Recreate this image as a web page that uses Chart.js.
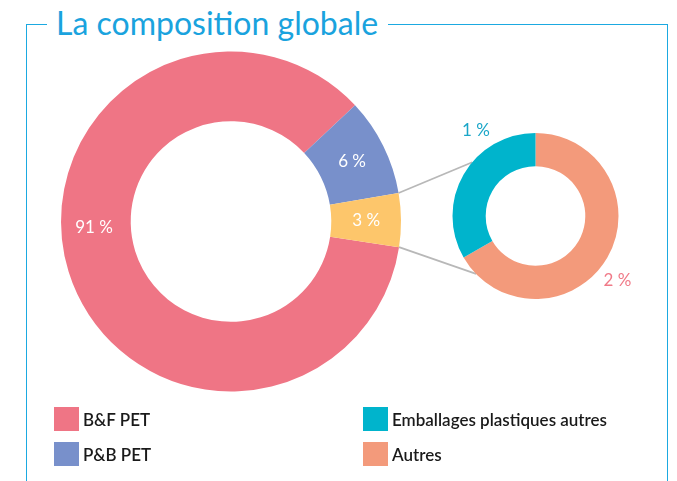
<!DOCTYPE html>
<html>
<head>
<meta charset="utf-8">
<script src="https://cdn.jsdelivr.net/npm/chart.js@4"></script>
<style>
  body { margin: 0; background: #fff; }
  #wrap { position: relative; width: 677px; height: 481px; overflow: hidden; font-family: Lato, "Open Sans", sans-serif; }
  #frame { position: absolute; left: 26px; top: 24px; width: 640px; height: 520px; border: 1.5px solid #1ba9e1; border-bottom: none; }
  #title { position: absolute; left: 47px; top: 3px; padding: 0 10px 0 9px; background: #fff; color: #1aa3de; font-size: 32px; line-height: 40px; white-space: nowrap; }
  canvas { position: absolute; left: 0; top: 0; }
  .leg { position: absolute; display: flex; align-items: center; font-size: 17px; font-weight: 600; color: #1a1a1a; }
  .leg span.box { width: 25px; height: 24px; margin-right: 4px; }
</style>
</head>
<body>
<div id="wrap">
  <div id="frame"></div>
  <div id="title">La composition globale</div>
  <canvas id="big" width="677" height="481"></canvas>
  <canvas id="small" width="677" height="481"></canvas>
  <div id="legend"></div>
</div>
<script>
// main ring
const bigCategories = ["B&F PET", "P&B PET", "Autres plastiques"];
const bigValues = [85.6, 9.3, 5.1];
const bigLabels = ["91 %", "6 %", "3 %"];
const bigColors = ["#ef7585", "#7890cb", "#fdc66b"];

// detail ring (split of the 3 %)
const smallCategories = ["Autres", "Emballages plastiques autres"];
const smallValues = [2, 1];
const smallLabels = ["2 %", "1 %"];
const smallColors = ["#f39a7b", "#00b4cc"];
const smallLabelColors = ["#f07a88", "#1aa6c8"];

// legend order as in the picture
const legendNames = ["B&F PET", "P&B PET", "Emballages plastiques autres", "Autres"];
const legendColors = ["#ef7585", "#7890cb", "#00b4cc", "#f39a7b"];

const rad = (d) => d * Math.PI / 180;

const sliceLabels = {
  id: "sliceLabels",
  afterDatasetsDraw(chart, args, opts) {
    const { ctx } = chart;
    const arcs = chart.getDatasetMeta(0).data;
    ctx.save();
    ctx.font = opts.font;
    ctx.textAlign = "center";
    ctx.textBaseline = "middle";
    arcs.forEach((arc, i) => {
      let x, y;
      if (opts.angles && opts.angles[i] != null) {
        const r = opts.outside ? arc.outerRadius + opts.offset : (arc.innerRadius + arc.outerRadius) / 2 + (opts.offset || 0);
        x = arc.x + r * Math.cos(rad(opts.angles[i]));
        y = arc.y + r * Math.sin(rad(opts.angles[i]));
      } else {
        const p = arc.tooltipPosition();
        x = p.x; y = p.y;
      }
      ctx.fillStyle = Array.isArray(opts.color) ? opts.color[i] : opts.color;
      ctx.fillText(opts.labels[i], x, y);
    });
    ctx.restore();
  }
};

const bigChart = new Chart(document.getElementById("big"), {
  type: "doughnut",
  data: {
    labels: bigCategories,
    datasets: [{ data: bigValues, backgroundColor: bigColors, borderWidth: 0 }]
  },
  options: {
    responsive: false,
    animation: false,
    rotation: 98.7,
    cutout: "59%",
    layout: { padding: { left: 61, right: 276, top: 51, bottom: 89 } },
    plugins: {
      legend: { display: false },
      tooltip: { enabled: false },
      sliceLabels: { labels: bigLabels, color: "#fff", font: "17px Lato", angles: [177.5, null, null], offset: 2 }
    }
  },
  plugins: [sliceLabels]
});

const connectors = {
  id: "connectors",
  beforeDatasetsDraw(chart) {
    const src = bigChart.getDatasetMeta(0).data[2];
    const dst = chart.getDatasetMeta(0).data[0];
    const ends = [220.4, 135.7];
    const starts = [src.startAngle, src.endAngle];
    const { ctx } = chart;
    ctx.save();
    ctx.strokeStyle = "#b8b8b8";
    ctx.lineWidth = 1.8;
    starts.forEach((a, i) => {
      ctx.beginPath();
      ctx.moveTo(src.x + src.outerRadius * Math.cos(a), src.y + src.outerRadius * Math.sin(a));
      ctx.lineTo(dst.x + dst.outerRadius * Math.cos(rad(ends[i])), dst.y + dst.outerRadius * Math.sin(rad(ends[i])));
      ctx.stroke();
    });
    ctx.restore();
  }
};

new Chart(document.getElementById("small"), {
  type: "doughnut",
  data: {
    labels: smallCategories,
    datasets: [{ data: smallValues, backgroundColor: smallColors, borderWidth: 0 }]
  },
  options: {
    responsive: false,
    animation: false,
    rotation: 0,
    cutout: "60%",
    layout: { padding: { left: 452, right: 58, top: 133, bottom: 182 } },
    plugins: {
      legend: { display: false },
      tooltip: { enabled: false },
      sliceLabels: { labels: smallLabels, color: smallLabelColors, font: "17px Lato", angles: [38, -125], outside: true, offset: 21 }
    }
  },
  plugins: [connectors, sliceLabels]
});

// legend
const legend = document.getElementById("legend");
const legPos = [[54, 407], [54, 442], [363, 407], [363, 442]];
legendNames.forEach((name, i) => {
  const d = document.createElement("div");
  d.className = "leg";
  d.style.left = legPos[i][0] + "px";
  d.style.top = legPos[i][1] + "px";
  d.innerHTML = '<span class="box" style="background:' + legendColors[i] + '"></span>' + name.replace("&", "&amp;");
  legend.appendChild(d);
});
</script>
</body>
</html>
